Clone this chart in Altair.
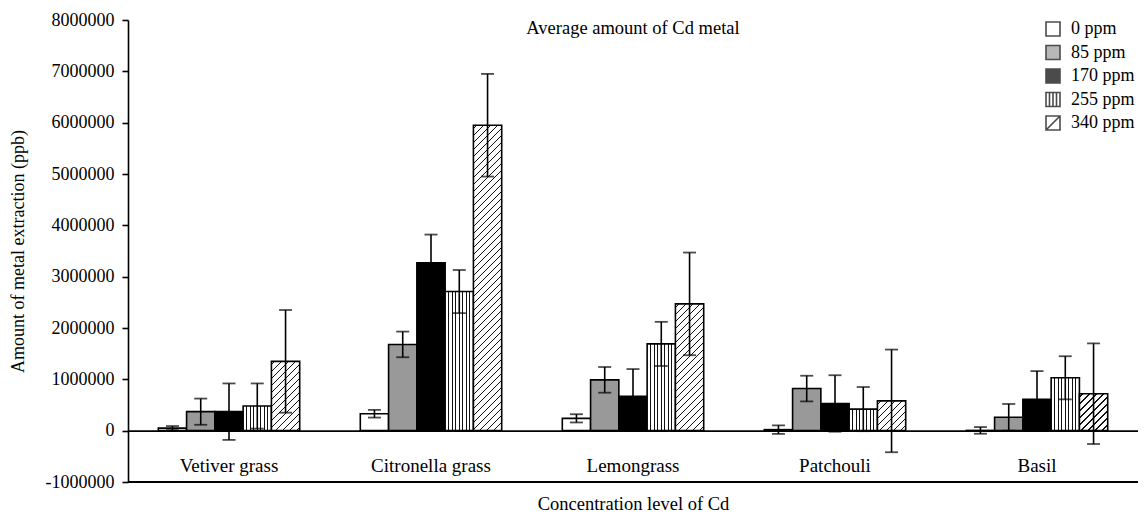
import altair as alt

# ---------------- data ----------------
plants = ["Vetiver grass", "Citronella grass", "Lemongrass", "Patchouli", "Basil"]
levels = ["0 ppm", "85 ppm", "170 ppm", "255 ppm", "340 ppm"]

mean_0 = [50000, 330000, 240000, 20000, 5000]
mean_85 = [370000, 1680000, 990000, 820000, 260000]
mean_170 = [370000, 3270000, 670000, 530000, 610000]
mean_255 = [480000, 2710000, 1690000, 420000, 1030000]
mean_340 = [1350000, 5950000, 2470000, 580000, 720000]

err_0 = [40000, 75000, 80000, 83000, 65000]
err_85 = [255000, 250000, 250000, 250000, 260000]
err_170 = [550000, 550000, 530000, 550000, 550000]
err_255 = [440000, 420000, 430000, 430000, 420000]
err_340 = [1000000, 1000000, 1000000, 1000000, 980000]

y_ticks = [-1000000, 0, 1000000, 2000000, 3000000, 4000000, 5000000, 6000000, 7000000, 8000000]

means = [mean_0, mean_85, mean_170, mean_255, mean_340]
errs = [err_0, err_85, err_170, err_255, err_340]

# ---------------- layout / style ----------------
FONT = "Liberation Serif"
W, H = 1010, 462
PAD_INNER, PAD_OUTER = 0.3, 0.15
Y_MIN, Y_MAX = -1000000, 8000000
LINE = "#111111"

step = W / (len(plants) - PAD_INNER + 2 * PAD_OUTER)
bar_w = step * (1 - PAD_INNER) / len(levels)
px_per_unit = H / (Y_MAX - Y_MIN)


def stop(o, c):
    return {"offset": max(0.0, min(1.0, o)), "color": c}


def vstripes():
    stops = [stop(0, "#ffffff")]
    n = 8
    th = 1.1 / bar_w
    for i in range(1, n):
        c = i / n
        a, b = c - th / 2, c + th / 2
        stops += [stop(a, "#ffffff"), stop(a, LINE), stop(b, LINE), stop(b, "#ffffff")]
    stops.append(stop(1, "#ffffff"))
    return {"gradient": "linear", "x1": 0, "y1": 0, "x2": 1, "y2": 0, "stops": stops}


def diag(h):
    w = bar_w
    h = max(h, 1.0)
    L = w + h
    den = w * w + h * h
    x2 = w * L / den
    y2 = h * L / den
    period, th = 7.0, 1.4
    stops = [stop(0, "#ffffff")]
    s = period / 2
    while s < L:
        a, b = (s - th / 2) / L, (s + th / 2) / L
        stops += [stop(a, "#ffffff"), stop(a, LINE), stop(b, LINE), stop(b, "#ffffff")]
        s += period
    stops.append(stop(1, "#ffffff"))
    return {"gradient": "linear", "x1": 0, "y1": 0, "x2": x2, "y2": y2, "stops": stops}


solid = ["#ffffff", "#999999", "#000000"]

rows = []
for j, lev in enumerate(levels):
    for i, p in enumerate(plants):
        m = means[j][i]
        e = errs[j][i]
        if j < 3:
            f = solid[j]
        elif j == 3:
            f = vstripes()
        else:
            f = diag(abs(m) * px_per_unit)
        rows.append({"plant": p, "level": lev, "mean": m, "lo": m - e, "hi": m + e, "fill": f})

data = alt.Data(values=rows)

y_scale = alt.Scale(domain=[Y_MIN, Y_MAX], nice=False, zero=False)
y_axis = alt.Axis(
    title="Amount of metal extraction (ppb)", values=y_ticks, grid=False,
    labelExpr="datum.value < 0 ? '-' + format(-datum.value, 'd') : format(datum.value, 'd')",
    tickSize=6, tickWidth=1.6, domainWidth=1.6, labelPadding=8, labelFontSize=18,
    titleFontSize=18,
    titleX=-110, titleY=H / 2, titleAngle=270, titleAlign="center", titleBaseline="middle",
)
x_enc = alt.X(
    "plant:N", sort=plants,
    scale=alt.Scale(domain=plants, paddingInner=PAD_INNER, paddingOuter=PAD_OUTER),
    axis=alt.Axis(
        title="Concentration level of Cd", offset=-(0 - Y_MIN) * px_per_unit, ticks=False,
        labelAngle=0, labelPadding=26, labelFontSize=19, titleFontSize=18.5,
        domainWidth=1.6, titleY=73, titleBaseline="middle",
    ),
)
xo_enc = alt.XOffset("level:N", sort=levels,
                     scale=alt.Scale(domain=levels, paddingInner=0, paddingOuter=0))

base = alt.Chart(data).encode(x=x_enc, xOffset=xo_enc)

bars = base.mark_bar(stroke="black", strokeWidth=1.6).encode(
    y=alt.Y("mean:Q", scale=y_scale, axis=y_axis, stack=None),
    fill=alt.Fill("fill:N", scale=None),
)
err_rule = base.mark_rule(color="black", strokeWidth=1.6).encode(
    y=alt.Y("lo:Q", scale=y_scale, axis=y_axis), y2="hi:Q"
)
cap_lo = base.mark_tick(color="black", thickness=1.8, size=13, orient="horizontal").encode(
    y=alt.Y("lo:Q", scale=y_scale, axis=y_axis)
)
cap_hi = base.mark_tick(color="black", thickness=1.8, size=13, orient="horizontal").encode(
    y=alt.Y("hi:Q", scale=y_scale, axis=y_axis)
)

bottom = alt.Chart(alt.Data(values=[{"v": Y_MIN}])).mark_rule(color="black", strokeWidth=2).encode(
    y=alt.Y("v:Q", scale=y_scale, axis=y_axis)
)

title_layer = alt.Chart(alt.Data(values=[{"t": "Average amount of Cd metal"}])).mark_text(
    font=FONT, fontSize=18.5, align="center", baseline="middle", color="black"
).encode(text="t:N", x=alt.value(W / 2), y=alt.value(8))

sq = "M-1,-1H1V1H-1Z"
shapes = [sq, sq, sq, sq + "M-0.5,-1V1M0,-1V1M0.5,-1V1", sq + "M-1,1L1,-1"]
legend_fills = ["#ffffff", "#999999", "#000000", "#ffffff", "#ffffff"]
leg = alt.Legend(title=None, orient="none", legendX=W - 94, legendY=0, padding=0, labelFont=FONT,
                 labelFontSize=18, labelColor="black", symbolSize=196, rowPadding=1.5,
                 labelOffset=9, symbolStrokeWidth=1.6, symbolStrokeColor="black")
legend_layer = alt.Chart(data).mark_point(filled=True, stroke="black", strokeWidth=1.6, size=196).encode(
    color=alt.Color("level:N", scale=alt.Scale(domain=levels, range=legend_fills), legend=leg),
    shape=alt.Shape("level:N", scale=alt.Scale(domain=levels, range=shapes), legend=leg),
).transform_filter("false")

chart = alt.layer(bars, err_rule, cap_lo, cap_hi, bottom, title_layer, legend_layer).properties(
    width=W, height=H,
    autosize=alt.AutoSizeParams(type="none"),
    padding={"left": 120, "top": 12, "right": 0, "bottom": 32},
).configure_view(stroke=None).configure_axis(
    labelFont=FONT, titleFont=FONT,
    labelColor="black", titleColor="black", domainColor="black", tickColor="black",
    titleFontWeight="normal",
)

chart.save("out.html", embed_options={"renderer": "svg", "actions": False})
